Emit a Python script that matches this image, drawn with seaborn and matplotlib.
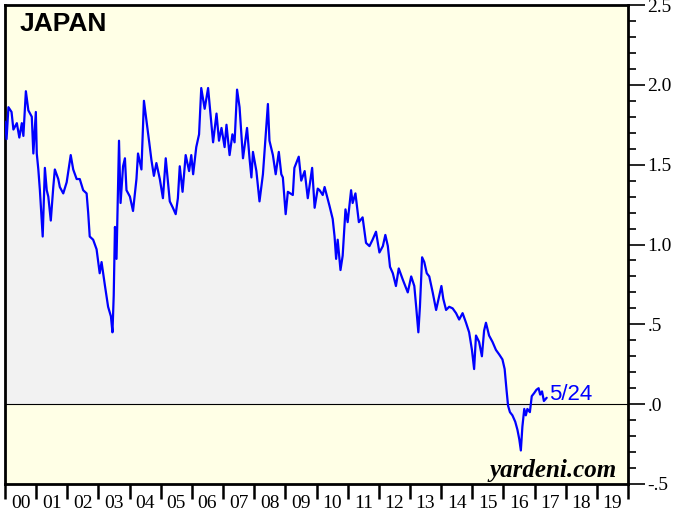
import numpy as np
import pandas as pd
import matplotlib
matplotlib.use("Agg")
import matplotlib.pyplot as plt
import seaborn as sns
from matplotlib.ticker import MultipleLocator

# Japan 10-year government bond yield (%)
years = [
    2000.00, 2000.05, 2000.11, 2000.21, 2000.27, 2000.38, 2000.46, 2000.54, 2000.59, 2000.67,
    2000.75, 2000.86, 2000.91, 2000.99, 2001.02, 2001.07, 2001.12, 2001.21, 2001.28, 2001.34,
    2001.39, 2001.47, 2001.55, 2001.60, 2001.71, 2001.76, 2001.87, 2001.98, 2002.11, 2002.19,
    2002.30, 2002.40, 2002.51, 2002.62, 2002.67, 2002.72, 2002.83, 2002.94, 2003.04, 2003.10,
    2003.21, 2003.31, 2003.40, 2003.45, 2003.49, 2003.53, 2003.58, 2003.66, 2003.71, 2003.79,
    2003.85, 2003.90, 2004.01, 2004.11, 2004.22, 2004.27, 2004.38, 2004.46, 2004.54, 2004.63,
    2004.70, 2004.78, 2004.86, 2004.97, 2005.07, 2005.16, 2005.29, 2005.39, 2005.48, 2005.55,
    2005.61, 2005.70, 2005.80, 2005.91, 2005.98, 2006.04, 2006.14, 2006.23, 2006.30, 2006.41,
    2006.52, 2006.59, 2006.68, 2006.79, 2006.87, 2006.95, 2007.05, 2007.11, 2007.21, 2007.30,
    2007.37, 2007.45, 2007.53, 2007.64, 2007.77, 2007.85, 2007.91, 2007.96, 2008.07, 2008.17,
    2008.28, 2008.37, 2008.44, 2008.49, 2008.60, 2008.69, 2008.79, 2008.87, 2008.92, 2009.01,
    2009.08, 2009.24, 2009.29, 2009.43, 2009.51, 2009.62, 2009.72, 2009.86, 2009.94, 2010.04,
    2010.10, 2010.20, 2010.26, 2010.42, 2010.52, 2010.58, 2010.63, 2010.68, 2010.77, 2010.84,
    2010.93, 2011.00, 2011.11, 2011.16, 2011.25, 2011.36, 2011.48, 2011.59, 2011.70, 2011.80,
    2011.91, 2012.02, 2012.13, 2012.21, 2012.29, 2012.36, 2012.45, 2012.55, 2012.64, 2012.77,
    2012.93, 2013.04, 2013.14, 2013.20, 2013.27, 2013.32, 2013.39, 2013.46, 2013.54, 2013.62,
    2013.73, 2013.84, 2013.94, 2014.01, 2014.07, 2014.16, 2014.26, 2014.37, 2014.48, 2014.58,
    2014.69, 2014.80, 2014.90, 2014.99, 2015.06, 2015.12, 2015.22, 2015.31, 2015.38, 2015.44,
    2015.54, 2015.65, 2015.76, 2015.87, 2015.97, 2016.04, 2016.10, 2016.15, 2016.21, 2016.29,
    2016.38, 2016.45, 2016.51, 2016.56, 2016.61, 2016.67, 2016.72, 2016.77, 2016.85, 2016.91,
    2016.99, 2017.06, 2017.13, 2017.18, 2017.24, 2017.30, 2017.39,
]
yields = [
    1.77, 1.66, 1.86, 1.83, 1.72, 1.76, 1.67, 1.76, 1.68, 1.96,
    1.84, 1.80, 1.57, 1.83, 1.57, 1.47, 1.34, 1.05, 1.48, 1.34,
    1.30, 1.15, 1.36, 1.47, 1.41, 1.36, 1.32, 1.39, 1.56, 1.47,
    1.41, 1.41, 1.34, 1.32, 1.20, 1.05, 1.03, 0.97, 0.82, 0.89,
    0.74, 0.61, 0.55, 0.45, 0.68, 1.11, 0.91, 1.65, 1.26, 1.49,
    1.54, 1.34, 1.30, 1.21, 1.41, 1.57, 1.47, 1.90, 1.78, 1.64,
    1.53, 1.43, 1.51, 1.41, 1.29, 1.54, 1.27, 1.23, 1.19, 1.29,
    1.49, 1.33, 1.56, 1.46, 1.56, 1.44, 1.61, 1.69, 1.98, 1.85,
    1.98, 1.83, 1.64, 1.82, 1.65, 1.73, 1.61, 1.75, 1.56, 1.69,
    1.64, 1.97, 1.86, 1.54, 1.73, 1.54, 1.42, 1.58, 1.46, 1.27,
    1.44, 1.69, 1.88, 1.65, 1.56, 1.44, 1.58, 1.44, 1.42, 1.19,
    1.33, 1.31, 1.48, 1.55, 1.40, 1.46, 1.29, 1.48, 1.23, 1.35,
    1.34, 1.31, 1.36, 1.24, 1.16, 1.05, 0.91, 1.03, 0.84, 0.93,
    1.22, 1.14, 1.34, 1.26, 1.32, 1.14, 1.17, 1.01, 0.99, 1.03,
    1.08, 0.95, 0.99, 1.06, 0.99, 0.86, 0.82, 0.74, 0.85, 0.78,
    0.70, 0.80, 0.74, 0.61, 0.45, 0.61, 0.92, 0.89, 0.82, 0.80,
    0.70, 0.59, 0.68, 0.74, 0.66, 0.59, 0.61, 0.60, 0.57, 0.53,
    0.57, 0.51, 0.45, 0.34, 0.22, 0.43, 0.39, 0.30, 0.46, 0.51,
    0.43, 0.39, 0.34, 0.31, 0.28, 0.22, 0.09, -0.01, -0.05, -0.07,
    -0.11, -0.16, -0.22, -0.29, -0.14, -0.03, -0.07, -0.03, -0.05, 0.05,
    0.07, 0.09, 0.10, 0.06, 0.08, 0.02, 0.04,
]
year_labels = ["00", "01", "02", "03", "04", "05", "06", "07", "08", "09",
               "10", "11", "12", "13", "14", "15", "16", "17", "18", "19"]
ytick_values = [-0.5, 0.0, 0.5, 1.0, 1.5, 2.0, 2.5]
ytick_labels = ["-.5", ".0", ".5", "1.0", "1.5", "2.0", "2.5"]

sns.set_style("white")
plt.rcParams["font.family"] = ["Liberation Serif", "DejaVu Serif"]
plt.rcParams["text.color"] = "black"

df = pd.DataFrame({"year": years, "yield": yields})

fig = plt.figure(figsize=(6.76, 5.21), dpi=100)
ax = fig.add_axes([5 / 676, 37 / 521, 623 / 676, 479 / 521])
ax.set_facecolor("#FFFFE6")

ax.fill_between(df["year"], df["yield"], 0, color="#F2F2F2", lw=0, zorder=1)
sns.lineplot(data=df, x="year", y="yield", ax=ax, color="#0000FF", lw=1.6,
             estimator=None, sort=False, zorder=3)
ax.axhline(0, color="black", lw=0.8, zorder=2)

ax.set_xlim(2000, 2020)
ax.set_ylim(-0.5, 2.5)
ax.set_xlabel("")
ax.set_ylabel("")

# right-hand y axis
ax.yaxis.tick_right()
ax.set_yticks(ytick_values)
ax.set_yticklabels(ytick_labels)
ax.yaxis.set_minor_locator(MultipleLocator(0.1))
ax.tick_params(axis="y", which="major", direction="out", length=12, width=1.2,
               labelsize=14, pad=2, right=True, left=False, colors="black")
ax.tick_params(axis="y", which="minor", direction="out", length=6, width=1.2,
               right=True, left=False, colors="black")

# year ticks at boundaries, labels centred between them
ax.set_xticks(np.arange(2000, 2021, 1))
ax.set_xticklabels([])
ax.set_xticks(np.arange(2000.5, 2020, 1), minor=True)
ax.set_xticklabels(year_labels, minor=True)
ax.tick_params(axis="x", which="major", direction="out", length=11, width=1.8,
               bottom=True, colors="black")
ax.tick_params(axis="x", which="minor", length=0, pad=8, labelsize=14,
               labelcolor="black")

for side in ["left", "right", "top", "bottom"]:
    ax.spines[side].set_visible(True)
    ax.spines[side].set_color("black")
    ax.spines[side].set_linewidth(2)

ax.text(0.024, 0.96, "JAPAN", transform=ax.transAxes, fontsize=19,
        fontweight="bold", family=["Liberation Sans", "DejaVu Sans"],
        color="black", ha="left", va="center")
ax.text(years[-1] + 0.07, yields[-1] + 0.02, "5/24", color="#0000FF", fontsize=16,
        family=["Liberation Sans", "DejaVu Sans"], ha="left", va="center")
ax.text(0.982, 0.029, "yardeni.com", transform=ax.transAxes, fontsize=18,
        fontweight="bold", fontstyle="italic", color="black",
        ha="right", va="center")

fig.savefig("out.png", dpi=100)
